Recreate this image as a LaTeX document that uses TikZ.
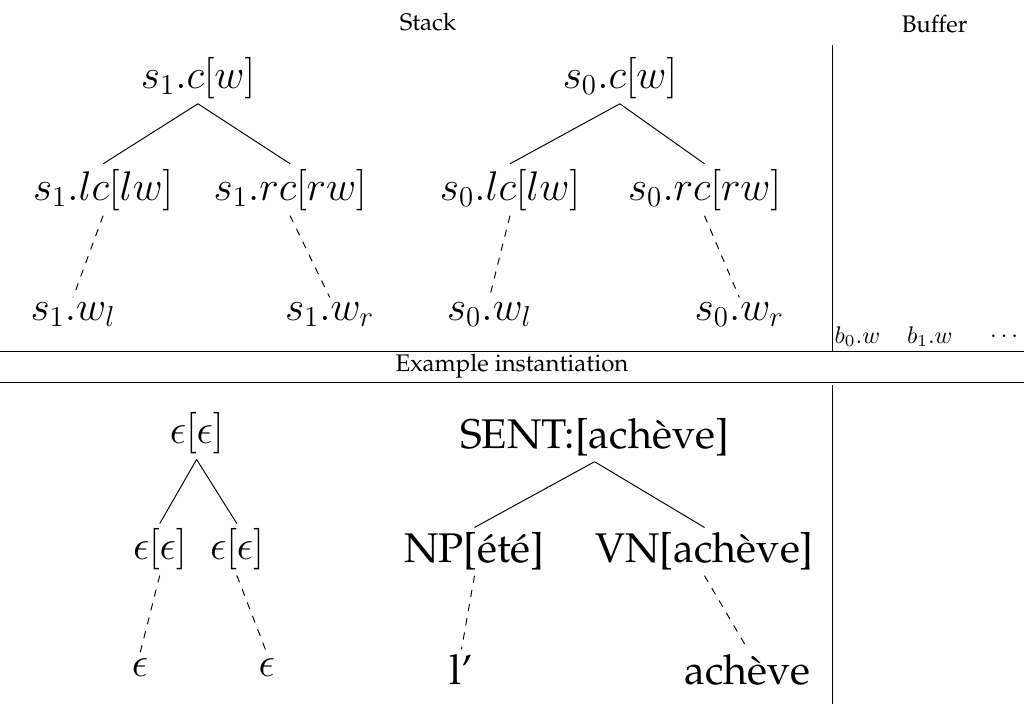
\documentclass[tikz,border=0pt]{standalone}
\usepackage[T1]{fontenc}
\usepackage{palatino}
\usetikzlibrary{positioning}

\tikzset{
  big/.style={font=\LARGE, inner sep=2pt},
  head/.style={font=\normalsize, inner sep=1pt},
  arc/.style={draw},
  farc/.style={draw, dashed}
}

\begin{document}
\begin{tikzpicture}
	% frame of the picture
	\clip (0,0) rectangle (15,-10.31);
	\useasboundingbox (0,0) rectangle (15,-10.31);
	
	% headings and rules
	\node[head] (stack) at (6.27,-0.33) {Stack};
	\node[head] (buffer) at (13.69,-0.36) {Buffer};
	\node[head] (inst) at (7.5,-5.37) {Example instantiation};
	\coordinate (topA) at (12.2,-0.66);
	\coordinate (topB) at (12.2,-5.15);
	\coordinate (botA) at (12.2,-5.64);
	\coordinate (botB) at (12.2,-10.31);
	\coordinate (ruleAL) at (0,-5.15);
	\coordinate (ruleAR) at (15,-5.15);
	\coordinate (ruleBL) at (0,-5.61);
	\coordinate (ruleBR) at (15,-5.61);
	\draw (topA) -- (topB);
	\draw (botA) -- (botB);
	\draw (ruleAL) -- (ruleAR);
	\draw (ruleBL) -- (ruleBR);
	
	% stack, second element
	\node[big] (s1c) at (2.90,-1.14) {$s_1.c[w]$};
	\node[big] (s1lc) at (1.51,-2.78) {$s_1.lc[lw]$};
	\node[big] (s1rc) at (4.25,-2.78) {$s_1.rc[rw]$};
	\node[big] (s1wl) at (1.07,-4.61) {$s_1.w_l$};
	\node[big] (s1wr) at (4.83,-4.61) {$s_1.w_r$};
	\draw[arc] (s1c.south) -- (s1lc.north);
	\draw[arc] (s1c.south) -- (s1rc.north);
	\draw[farc] (s1lc.south) -- (s1wl.north);
	\draw[farc] (s1rc.south) -- (s1wr.north);
	
	% stack, top element
	\node[big] (s0c) at (9.08,-1.14) {$s_0.c[w]$};
	\node[big] (s0lc) at (7.47,-2.78) {$s_0.lc[lw]$};
	\node[big] (s0rc) at (10.32,-2.78) {$s_0.rc[rw]$};
	\node[big] (s0wl) at (7.17,-4.61) {$s_0.w_l$};
	\node[big] (s0wr) at (10.83,-4.61) {$s_0.w_r$};
	\draw[arc] (s0c.south) -- (s0lc.north);
	\draw[arc] (s0c.south) -- (s0rc.north);
	\draw[farc] (s0lc.south) -- (s0wl.north);
	\draw[farc] (s0rc.south) -- (s0wr.north);
	
	% buffer
	\node[head] (b0) at (12.56,-4.93) {$b_0.w$};
	\node[head] (b1) at (13.62,-4.93) {$b_1.w$};
	\node[head] (bdots) at (14.71,-4.93) {$\ldots$};
	
	% instantiation, second element
	\node[big] (e1c) at (2.88,-6.35) {$\epsilon[\epsilon]$};
	\node[big] (e1lc) at (2.34,-8.05) {$\epsilon[\epsilon]$};
	\node[big] (e1rc) at (3.47,-8.05) {$\epsilon[\epsilon]$};
	\node[big] (e1wl) at (2.05,-9.78) {$\epsilon$};
	\node[big] (e1wr) at (3.91,-9.78) {$\epsilon$};
	\draw[arc] (e1c.south) -- (e1lc.north);
	\draw[arc] (e1c.south) -- (e1rc.north);
	\draw[farc] (e1lc.south) -- (e1wl.north);
	\draw[farc] (e1rc.south) -- (e1wr.north);
	
	% instantiation, top element
	\node[big] (e0c) at (8.71,-6.41) {SENT:[ach\`eve]};
	\node[big] (e0lc) at (6.95,-8.08) {NP[\'et\'e]};
	\node[big] (e0rc) at (10.32,-8.08) {VN[ach\`eve]};
	\node[big] (e0wl) at (6.76,-9.81) {l'};
	\node[big] (e0wr) at (10.95,-9.81) {ach\`eve};
	\draw[arc] (e0c.south) -- (e0lc.north);
	\draw[arc] (e0c.south) -- (e0rc.north);
	\draw[farc] (e0lc.south) -- (e0wl.north);
	\draw[farc] (e0rc.south) -- (e0wr.north);
	
	% instantiation, buffer (cut by the frame)
	\node[head] (c0) at (12.74,-10.47) {\`a};
	\node[head] (c1) at (13.9,-10.47) {$\epsilon$};
\end{tikzpicture}
\end{document}
